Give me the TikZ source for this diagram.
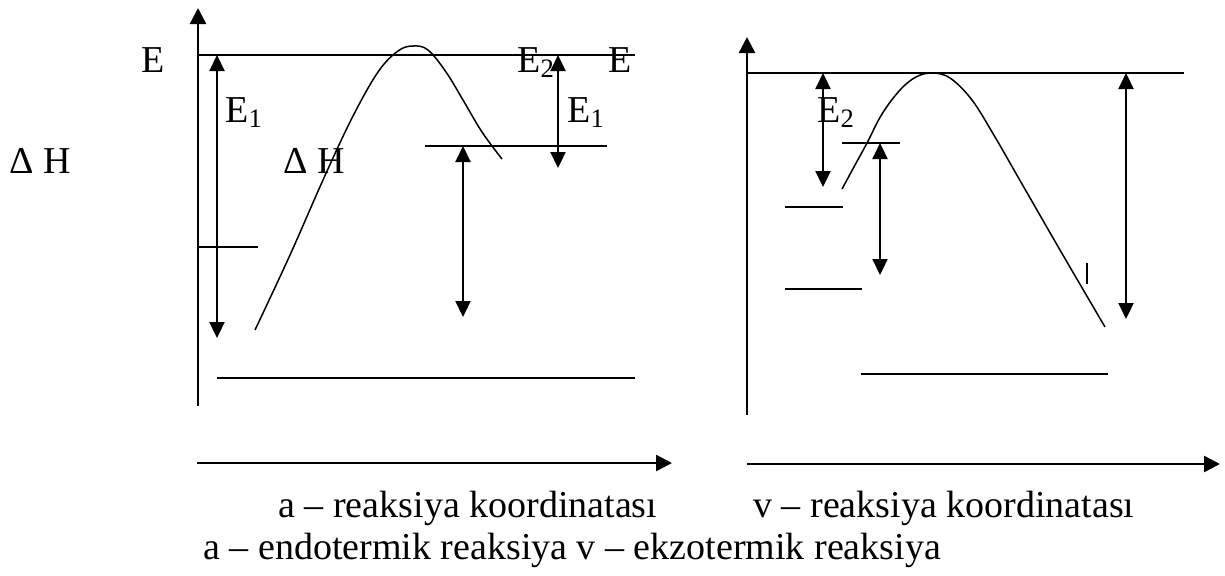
\documentclass[tikz,border=0pt]{standalone}
\usepackage{fontspec}
\setmainfont{Liberation Serif}
\usetikzlibrary{arrows.meta}

\begin{document}
\begin{tikzpicture}[x=0.5pt,y=-0.5pt,
    axis/.style={line width=1.2pt,-{Triangle[length=8pt,width=8pt]}},
    level/.style={line width=0.75pt},
    darrow/.style={line width=1.1pt,{Triangle[length=8pt,width=7.5pt]}-{Triangle[length=8pt,width=7.5pt]}},
    lbl/.style={inner sep=0pt,anchor=base west,font=\fontsize{19}{22}\selectfont}]
  \useasboundingbox (0,0) rectangle (1225,575);

  % axes
  \coordinate (aO) at (198,406); \coordinate (aY) at (198,8);
  \coordinate (vO) at (747,415); \coordinate (vY) at (747,37);
  \coordinate (aX0) at (197,463); \coordinate (aX1) at (672,463);
  \coordinate (vX0) at (747,464); \coordinate (vX1) at (1220,464);
  \draw[axis] (aO) -- (aY);
  \draw[axis] (vO) -- (vY);
  \draw[axis] (aX0) -- (aX1);
  \draw[axis] (vX0) -- (vX1);

  % levels, left picture
  \coordinate (aTop0) at (198,55);  \coordinate (aTop1) at (635,55);
  \coordinate (aMid0) at (425,146); \coordinate (aMid1) at (607,146);
  \coordinate (aLow0) at (198,247); \coordinate (aLow1) at (258,247);
  \coordinate (aBot0) at (217,378); \coordinate (aBot1) at (635,378);
  \foreach \p in {Top,Mid,Low,Bot}
    \draw[level] (a\p0) -- (a\p1);

  % levels, right picture
  \coordinate (vTop0) at (747,73);  \coordinate (vTop1) at (1184,73);
  \coordinate (vMid0) at (842,143); \coordinate (vMid1) at (900,143);
  \coordinate (vLow0) at (785,207); \coordinate (vLow1) at (843,207);
  \coordinate (vDn0) at (785,289);  \coordinate (vDn1) at (862,289);
  \coordinate (vBot0) at (861,374); \coordinate (vBot1) at (1108,374);
  \foreach \p in {Top,Mid,Low,Dn,Bot}
    \draw[level] (v\p0) -- (v\p1);

  % energy curves
  \draw[level] plot[smooth,tension=0.6] coordinates {(255,330) (290,255) (323,180)
    (352,118) (378,72) (398,51) (413,46) (428,50) (446,72) (463,100) (482,132) (502,159)};
  \draw[level] plot[smooth,tension=0.6] coordinates {(842,189) (855,165) (867,143)
    (882,114) (900,90) (916,77) (932,73) (950,78) (972,100) (995,137) (1018,177)
    (1060,250) (1105,327)};

  % double arrows
  \coordinate (a1t) at (217,55);  \coordinate (a1b) at (217,338);
  \coordinate (a2t) at (463,146); \coordinate (a2b) at (463,317);
  \coordinate (a3t) at (558,55);  \coordinate (a3b) at (558,168);
  \coordinate (v1t) at (823,73);  \coordinate (v1b) at (823,187);
  \coordinate (v2t) at (880,143); \coordinate (v2b) at (880,275);
  \coordinate (v3t) at (1126,73); \coordinate (v3b) at (1126,319);
  \foreach \a in {a1,a2,a3,v1,v2,v3}
    \draw[darrow] (\a t) -- (\a b);

  % small tick
  \coordinate (tk0) at (1087,263); \coordinate (tk1) at (1087,284);
  \draw[line width=1pt] (tk0) -- (tk1);

  % labels
  \node[lbl] (eA) at (141,72) {E};
  \node[lbl] (e2A) at (517,72) {E\textsubscript{2}};
  \node[lbl] (eB) at (608,72) {E};
  \node[lbl] (e1A) at (225,122) {E\textsubscript{1}};
  \node[lbl] (e1B) at (567,122) {E\textsubscript{1}};
  \node[lbl] (dhA) at (283,173) {Δ H};
  \node[lbl] (dhL) at (9,173) {Δ H};
  \node[lbl] (e2V) at (817,122) {E\textsubscript{2}};
  \node[lbl] (capA) at (278,517) {a – reaksiya koordinatası};
  \node[lbl] (capV) at (753,517) {v – reaksiya koordinatası};
  \node[lbl] (capB) at (203,559) {a – endotermik reaksiya v – ekzotermik reaksiya};
\end{tikzpicture}
\end{document}
